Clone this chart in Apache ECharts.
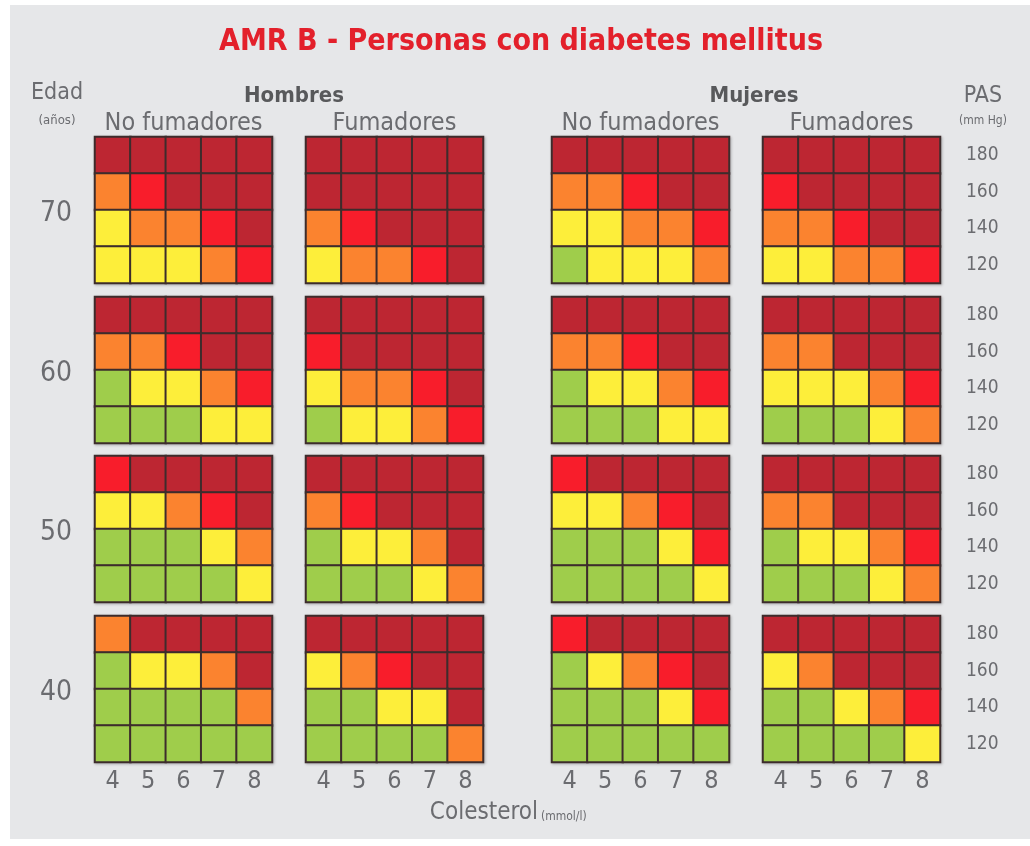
<!DOCTYPE html>
<html>
<head>
<meta charset="utf-8">
<script src="https://cdn.jsdelivr.net/npm/echarts@6/dist/echarts.min.js"></script>
<style>
html,body{margin:0;padding:0;background:#fff;}
#chart{width:1030px;height:846px;}
</style>
</head>
<body>
<div id="chart"></div>
<script>
// Axis categories
const cholesterol = ['4', '5', '6', '7', '8'];
const sbp = ['120', '140', '160', '180'];
const ages = ['70', '60', '50', '40'];
const sexes = ['Hombres', 'Mujeres'];
const smoking = ['No fumadores', 'Fumadores'];
// Risk level per cell: 0 <10%, 1 10-20%, 2 20-30%, 3 30-40%, 4 >=40%
// rows listed from PAS 180 (top) to 120 (bottom), columns cholesterol 4..8
const hNF70 = [[4,4,4,4,4],[2,3,4,4,4],[1,2,2,3,4],[1,1,1,2,3]];
const hF70  = [[4,4,4,4,4],[4,4,4,4,4],[2,3,4,4,4],[1,2,2,3,4]];
const mNF70 = [[4,4,4,4,4],[2,2,3,4,4],[1,1,2,2,3],[0,1,1,1,2]];
const mF70  = [[4,4,4,4,4],[3,4,4,4,4],[2,2,3,4,4],[1,1,2,2,3]];
const hNF60 = [[4,4,4,4,4],[2,2,3,4,4],[0,1,1,2,3],[0,0,0,1,1]];
const hF60  = [[4,4,4,4,4],[3,4,4,4,4],[1,2,2,3,4],[0,1,1,2,3]];
const mNF60 = [[4,4,4,4,4],[2,2,3,4,4],[0,1,1,2,3],[0,0,0,1,1]];
const mF60  = [[4,4,4,4,4],[2,2,4,4,4],[1,1,1,2,3],[0,0,0,1,2]];
const hNF50 = [[3,4,4,4,4],[1,1,2,3,4],[0,0,0,1,2],[0,0,0,0,1]];
const hF50  = [[4,4,4,4,4],[2,3,4,4,4],[0,1,1,2,4],[0,0,0,1,2]];
const mNF50 = [[3,4,4,4,4],[1,1,2,3,4],[0,0,0,1,3],[0,0,0,0,1]];
const mF50  = [[4,4,4,4,4],[2,2,4,4,4],[0,1,1,2,3],[0,0,0,1,2]];
const hNF40 = [[2,4,4,4,4],[0,1,1,2,4],[0,0,0,0,2],[0,0,0,0,0]];
const hF40  = [[4,4,4,4,4],[1,2,3,4,4],[0,0,1,1,4],[0,0,0,0,2]];
const mNF40 = [[3,4,4,4,4],[0,1,2,3,4],[0,0,0,1,3],[0,0,0,0,0]];
const mF40  = [[4,4,4,4,4],[1,2,4,4,4],[0,0,1,2,3],[0,0,0,0,1]];

const panels = [
  [hNF70, hF70, mNF70, mF70],
  [hNF60, hF60, mNF60, mF60],
  [hNF50, hF50, mNF50, mF50],
  [hNF40, hF40, mNF40, mF40]
];
const riskColors = ['#9fcd4b', '#fdee3a', '#fb832f', '#f81d2b', '#bd2632'];

const FONT = "'Liberation Sans Narrow', 'DejaVu Sans Condensed', 'Roboto', sans-serif";
const TXT = '#6b6c70';
const panelLeft = [95, 306, 552, 763];
const panelTop = [137, 297, 456, 616];
const PW = 177, PH = 146;

const grids = [], xAxes = [], yAxes = [], series = [];
panels.forEach((row, a) => {
  row.forEach((mat, p) => {
    const idx = grids.length;
    grids.push({
      left: panelLeft[p], top: panelTop[a], width: PW, height: PH,
      show: true, borderColor: '#3a3030', borderWidth: 2,
      backgroundColor: 'transparent',
      shadowColor: 'rgba(0,0,0,0.35)', shadowBlur: 3, shadowOffsetX: 1, shadowOffsetY: 1
    });
    xAxes.push({
      type: 'category', gridIndex: idx, data: cholesterol,
      axisLine: {show: false}, axisTick: {show: false}, splitLine: {show: false},
      axisLabel: {show: a === 3, fontSize: 25, color: TXT, fontFamily: FONT, margin: 7}
    });
    yAxes.push({
      type: 'category', gridIndex: idx, data: sbp, position: 'right',
      axisLine: {show: false}, axisTick: {show: false}, splitLine: {show: false},
      axisLabel: {show: p === 3, fontSize: 19, lineHeight: 19, color: TXT, fontFamily: FONT, margin: 26, padding: [8, 0, 0, 0]}
    });
    const data = [];
    mat.forEach((vals, r) => {
      vals.forEach((v, c) => data.push([c, sbp.length - 1 - r, v]));
    });
    series.push({
      type: 'heatmap', xAxisIndex: idx, yAxisIndex: idx, data: data,
      itemStyle: {borderColor: '#3d2c2c', borderWidth: 2},
      emphasis: {disabled: true}
    });
  });
});

const graphic = [
  {type: 'rect', left: 10, top: 5, shape: {width: 1020, height: 834}, style: {fill: '#e6e7e9'}, z: -10},
  {type: 'text', x: 521, y: 42, style: {text: 'AMR B - Personas con diabetes mellitus', fontSize: 30, fontWeight: 'bold', fill: '#e3202b', fontFamily: FONT, align: 'center', verticalAlign: 'middle'}},
  {type: 'text', x: 57, y: 93, style: {text: 'Edad', fontSize: 23, fill: TXT, fontFamily: FONT, align: 'center', verticalAlign: 'middle'}},
  {type: 'text', x: 57, y: 121, style: {text: '(años)', fontSize: 13, fill: TXT, fontFamily: FONT, align: 'center', verticalAlign: 'middle'}},
  {type: 'text', x: 983, y: 96, style: {text: 'PAS', fontSize: 23, fill: TXT, fontFamily: FONT, align: 'center', verticalAlign: 'middle'}},
  {type: 'text', x: 983, y: 121, style: {text: '(mm Hg)', fontSize: 12, fill: TXT, fontFamily: FONT, align: 'center', verticalAlign: 'middle'}},
  {type: 'text', x: 294, y: 96, style: {text: sexes[0], fontSize: 22, fontWeight: 'bold', fill: '#58595b', fontFamily: FONT, align: 'center', verticalAlign: 'middle'}},
  {type: 'text', x: 754, y: 96, style: {text: sexes[1], fontSize: 22, fontWeight: 'bold', fill: '#58595b', fontFamily: FONT, align: 'center', verticalAlign: 'middle'}},
  {type: 'text', x: 538, y: 813, style: {text: 'Colesterol', fontSize: 24, fill: TXT, fontFamily: FONT, align: 'right', verticalAlign: 'middle'}},
  {type: 'text', x: 541, y: 817, style: {text: '(mmol/l)', fontSize: 12, fill: TXT, fontFamily: FONT, align: 'left', verticalAlign: 'middle'}}
];
panelLeft.forEach((x, p) => {
  graphic.push({type: 'text', x: x + PW / 2, y: 123, style: {text: smoking[p % 2], fontSize: 25, fill: TXT, fontFamily: FONT, align: 'center', verticalAlign: 'middle'}});
});
panelTop.forEach((y, a) => {
  graphic.push({type: 'text', x: 56, y: y + PH / 2 + 4, style: {text: ages[a], fontSize: 28, fill: TXT, fontFamily: FONT, align: 'center', verticalAlign: 'middle'}});
});

const chart = echarts.init(document.getElementById('chart'), null, {renderer: 'canvas'});
chart.setOption({
  backgroundColor: '#ffffff',
  animation: false,
  textStyle: {fontFamily: FONT},
  grid: grids,
  xAxis: xAxes,
  yAxis: yAxes,
  visualMap: {
    type: 'piecewise', show: false, dimension: 2,
    seriesIndex: series.map((s, i) => i),
    pieces: riskColors.map((c, i) => ({value: i, color: c}))
  },
  series: series,
  graphic: graphic
});
</script>
</body>
</html>
